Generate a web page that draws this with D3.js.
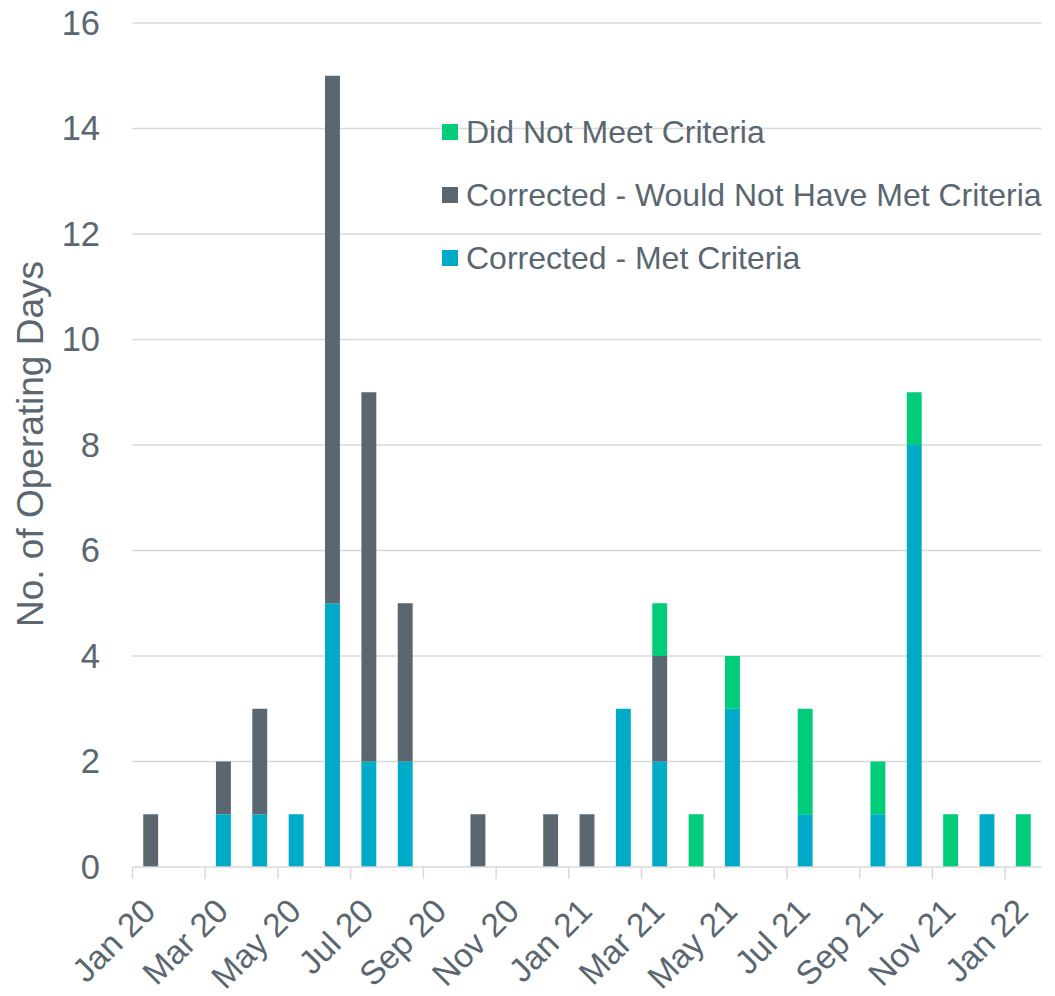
<!DOCTYPE html>
<html>
<head>
<meta charset="utf-8">
<script src="https://cdn.jsdelivr.net/npm/d3@7"></script>
<style>
  html, body { margin: 0; padding: 0; background: #ffffff; }
  svg { display: block; font-family: "Liberation Sans", Arial, Helvetica, sans-serif; }
</style>
</head>
<body>
<svg id="chart" width="1055" height="996"></svg>
<script>
// Months shown on the category axis
const months = ["Jan 20","Feb 20","Mar 20","Apr 20","May 20","Jun 20","Jul 20","Aug 20","Sep 20","Oct 20","Nov 20","Dec 20",
                "Jan 21","Feb 21","Mar 21","Apr 21","May 21","Jun 21","Jul 21","Aug 21","Sep 21","Oct 21","Nov 21","Dec 21","Jan 22"];

// Operating days per month, by outcome
const correctedMet    = [0,0,1,1,1,5,2,2,0,0,0,0, 0,3,2,0,3,0,1,0,1,8,0,1,0];
const correctedNotMet = [1,0,1,2,0,10,7,3,0,1,0,1, 1,0,2,0,0,0,0,0,0,0,0,0,0];
const didNotMeet      = [0,0,0,0,0,0,0,0,0,0,0,0, 0,0,1,1,1,0,2,0,1,1,1,0,1];

const seriesNames = ["Corrected - Met Criteria", "Corrected - Would Not Have Met Criteria", "Did Not Meet Criteria"];
const yTicks = [0, 2, 4, 6, 8, 10, 12, 14, 16];
const tickMonths = months.filter((m, i) => i % 2 === 0);

const colors = {
  "Corrected - Met Criteria": "#00abc7",
  "Corrected - Would Not Have Met Criteria": "#5b6770",
  "Did Not Meet Criteria": "#00cc7a"
};
const textColor = "#5b6770";
const gridColor = "#d9d9d9";

const svg = d3.select("#chart");

const rows = months.map((m, i) => ({
  month: m,
  "Corrected - Met Criteria": correctedMet[i],
  "Corrected - Would Not Have Met Criteria": correctedNotMet[i],
  "Did Not Meet Criteria": didNotMeet[i]
}));

const plot = { left: 132.5, right: 1041.5, top: 23, bottom: 867 };

const x = d3.scaleBand().domain(months).range([plot.left, plot.right]).padding(0);
const y = d3.scaleLinear().domain([0, 16]).range([plot.bottom, plot.top]);
const barW = x.bandwidth() * 0.41;

// Horizontal gridlines
svg.append("g").selectAll("line").data(yTicks.filter(d => d > 0)).join("line")
  .attr("x1", plot.left).attr("x2", plot.right)
  .attr("y1", d => y(d)).attr("y2", d => y(d))
  .attr("stroke", gridColor).attr("stroke-width", 1.5);

// Y tick labels
svg.append("g").selectAll("text").data(yTicks).join("text")
  .attr("x", 100).attr("y", d => y(d)).attr("dy", "0.34em")
  .attr("text-anchor", "end")
  .attr("font-size", 34.5).attr("fill", textColor)
  .text(d => d);

// Y axis title
svg.append("text")
  .attr("transform", `translate(43, ${(plot.top + plot.bottom) / 2 - 1}) rotate(-90)`)
  .attr("text-anchor", "middle")
  .attr("font-size", 37).attr("fill", textColor)
  .text("No. of Operating Days");

// Stacked bars
const stack = d3.stack().keys(seriesNames)(rows);
svg.append("g").selectAll("g").data(stack).join("g")
  .attr("fill", d => colors[d.key])
  .selectAll("rect").data(d => d.filter(s => s[1] - s[0] > 0)).join("rect")
  .attr("x", d => x(d.data.month) + (x.bandwidth() - barW) / 2)
  .attr("width", barW)
  .attr("y", d => y(d[1]))
  .attr("height", d => y(d[0]) - y(d[1]));

// Category axis line and ticks
const axis = svg.append("g");
axis.append("line")
  .attr("x1", plot.left).attr("x2", plot.right)
  .attr("y1", y(0)).attr("y2", y(0))
  .attr("stroke", gridColor).attr("stroke-width", 1.5);
axis.selectAll("line.tick").data(tickMonths).join("line")
  .attr("class", "tick")
  .attr("x1", d => x(d)).attr("x2", d => x(d))
  .attr("y1", y(0)).attr("y2", y(0) + 12)
  .attr("stroke", gridColor).attr("stroke-width", 1.5);
axis.selectAll("text").data(tickMonths).join("text")
  .attr("transform", d => `translate(${x(d) + 25}, ${y(0) + 46}) rotate(-45)`)
  .attr("text-anchor", "end")
  .attr("font-size", 33.5).attr("fill", textColor)
  .text(d => d);

// Legend, top series first
const legendItems = seriesNames.slice().reverse();
const legend = svg.append("g").selectAll("g").data(legendItems).join("g")
  .attr("transform", (d, i) => `translate(442, ${132 + i * 63})`);
legend.append("rect")
  .attr("x", 0).attr("y", -8).attr("width", 16).attr("height", 16)
  .attr("fill", d => colors[d]);
legend.append("text")
  .attr("x", 24).attr("y", 0).attr("dy", "0.35em")
  .attr("font-size", 32).attr("fill", textColor)
  .text(d => d);
</script>
</body>
</html>
